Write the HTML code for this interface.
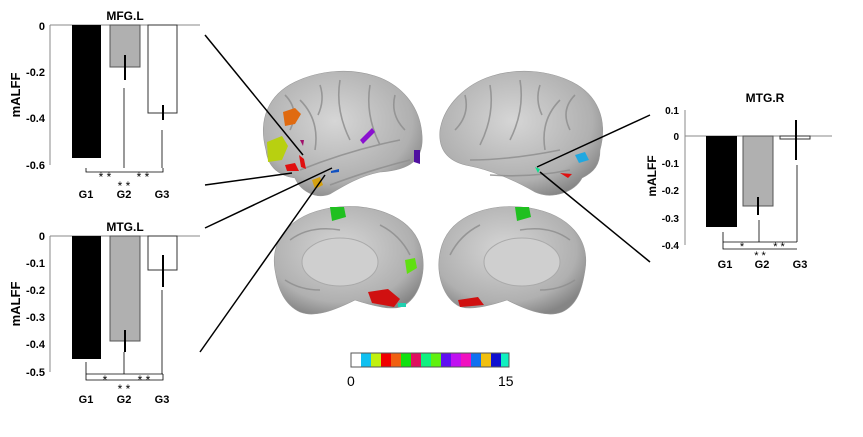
<!DOCTYPE html>
<html><head><meta charset="utf-8"><style>
body{margin:0;background:#fff;}
svg text{font-family:"Liberation Sans",Arial,sans-serif;}
</style></head><body>
<svg width="863" height="432" viewBox="0 0 863 432" xmlns="http://www.w3.org/2000/svg">
<defs>
<radialGradient id="g" cx="45%" cy="40%" r="65%"><stop offset="0" stop-color="#d6d6d6"/><stop offset="0.75" stop-color="#b0b0b0"/><stop offset="1" stop-color="#858585"/></radialGradient>
</defs>
<!-- brains -->
<path d="M266,150 C258,120 268,95 295,82 C320,70 350,68 375,76 C400,84 420,105 422,135 C424,160 410,170 380,172 C360,176 345,185 330,194 C315,200 300,190 295,178 C280,176 268,168 266,150 Z" fill="url(#g)" stroke="#999" stroke-width="0.6"/>
<path d="M600,150 C608,120 598,95 572,82 C548,70 518,68 492,76 C466,84 444,105 440,130 C438,150 448,162 470,166 C490,170 515,180 535,192 C552,200 575,192 582,178 C594,172 600,165 600,150 Z" fill="url(#g)" stroke="#999" stroke-width="0.6"/>
<path d="M275,270 C270,240 290,215 330,208 C370,202 410,215 420,245 C428,270 420,295 405,305 C395,312 370,305 355,300 C335,310 315,318 300,312 C285,305 278,290 275,270 Z" fill="url(#g)" stroke="#999" stroke-width="0.6"/>
<path d="M585,270 C590,240 570,215 530,208 C490,202 452,215 442,245 C434,270 442,295 457,305 C467,312 492,305 507,300 C527,310 547,318 562,312 C577,305 582,290 585,270 Z" fill="url(#g)" stroke="#999" stroke-width="0.6"/>
<ellipse cx="340" cy="262" rx="38" ry="24" fill="#cfcfcf" stroke="#aaa"/>
<ellipse cx="522" cy="262" rx="38" ry="24" fill="#cfcfcf" stroke="#aaa"/>
<g stroke="#8f8f8f" stroke-width="1.6" fill="none" opacity="0.85">
<path d="M300,100 Q320,120 315,150"/><path d="M340,80 Q335,110 350,140"/><path d="M370,85 Q365,115 380,145"/><path d="M300,170 Q350,150 400,140"/>
<path d="M285,95 Q300,110 290,130"/><path d="M395,95 Q390,115 405,130"/><path d="M320,85 Q325,100 318,115"/><path d="M330,185 Q370,170 410,160"/>
<path d="M560,100 Q540,120 545,150"/><path d="M520,80 Q525,110 510,140"/><path d="M490,85 Q495,115 480,145"/><path d="M470,160 Q510,160 560,150"/>
<path d="M575,95 Q560,110 570,130"/><path d="M465,95 Q470,115 455,130"/><path d="M540,85 Q535,100 542,115"/><path d="M490,175 Q530,178 570,170"/>
<path d="M290,240 Q310,225 340,230"/><path d="M380,225 Q400,235 410,255"/><path d="M285,280 Q300,290 320,290"/>
<path d="M570,240 Q550,225 520,230"/><path d="M480,225 Q460,235 450,255"/><path d="M575,280 Q560,290 540,290"/>
</g>
<!-- blobs -->
<path d="M283,112 l12,-4 6,6 -6,10 -10,2z" fill="#e06a10"/>
<path d="M267,142 l15,-6 6,10 -6,14 -14,2z" fill="#b8d010"/>
<path d="M300,140 l4,0 -1,6z" fill="#a0106a"/>
<path d="M299,155 l5,4 2,10 -5,-2z" fill="#e01010"/>
<path d="M285,165 l10,-2 4,8 -12,0z" fill="#e01010"/>
<path d="M312,180 l8,-3 3,8 -8,4z" fill="#d4a010"/>
<path d="M331,171 l8,-2 0,3 -8,1z" fill="#1050c0"/>
<path d="M360,140 l12,-12 3,4 -12,12z" fill="#8a10d0"/>
<path d="M414,150 l6,0 0,14 -6,-2z" fill="#5010a0"/>
<path d="M575,155 l10,-3 4,8 -10,3z" fill="#20a8e0"/>
<path d="M535,167 l5,2 -2,4z" fill="#10e090"/>
<path d="M560,173 l12,1 -4,4z" fill="#e01010"/>
<path d="M330,207 l14,0 2,10 -14,4z" fill="#20c020"/>
<path d="M515,207 l14,0 2,10 -14,4z" fill="#20c020"/>
<path d="M405,260 l10,-2 2,10 -10,6z" fill="#60e010"/>
<path d="M368,292 l20,-3 12,10 -6,8 -22,-4z" fill="#d01010"/>
<path d="M458,300 l20,-3 6,8 -24,2z" fill="#d01010"/>
<path d="M398,303 l8,0 0,4 -8,0z" fill="#20d0b0"/>
<!-- connector lines -->
<g stroke="#000" stroke-width="1.5">
<line x1="205" y1="35" x2="303" y2="155"/>
<line x1="205" y1="185" x2="292" y2="173"/>
<line x1="205" y1="228" x2="332" y2="168"/>
<line x1="200" y1="352" x2="325" y2="175"/>
<line x1="650" y1="115" x2="537" y2="167"/>
<line x1="650" y1="262" x2="540" y2="172"/>
</g>
<!-- colorbar -->
<g stroke="none">
<rect x="351" y="353" width="10" height="14" fill="#fff"/><rect x="361" y="353" width="10" height="14" fill="#10c0f0"/><rect x="371" y="353" width="10" height="14" fill="#c0f010"/><rect x="381" y="353" width="10" height="14" fill="#f00000"/><rect x="391" y="353" width="10" height="14" fill="#f06010"/><rect x="401" y="353" width="10" height="14" fill="#10e010"/><rect x="411" y="353" width="10" height="14" fill="#e01060"/><rect x="421" y="353" width="10" height="14" fill="#10f080"/><rect x="431" y="353" width="10" height="14" fill="#60f010"/><rect x="441" y="353" width="10" height="14" fill="#6010f0"/><rect x="451" y="353" width="10" height="14" fill="#c010f0"/><rect x="461" y="353" width="10" height="14" fill="#f010c0"/><rect x="471" y="353" width="10" height="14" fill="#1070f0"/><rect x="481" y="353" width="10" height="14" fill="#f0c010"/><rect x="491" y="353" width="10" height="14" fill="#1010d0"/><rect x="501" y="353" width="8" height="14" fill="#10f0c0"/>
</g>
<rect x="351" y="353" width="158" height="14" fill="none" stroke="#555"/>
<text x="347" y="386" font-size="14">0</text><text x="498" y="386" font-size="14">15</text>

<!-- chart 1 -->
<g font-size="11" font-weight="bold">
<text x="125" y="20" font-size="12" text-anchor="middle">MFG.L</text>
<line x1="50" y1="25" x2="200" y2="25" stroke="#888"/>
<line x1="50" y1="25" x2="50" y2="165" stroke="#888"/>
<rect x="72" y="25" width="29" height="133" fill="#000"/>
<rect x="110" y="25" width="30" height="42" fill="#b0b0b0" stroke="#555"/>
<rect x="148" y="25" width="29" height="88" fill="#fff" stroke="#333"/>
<line x1="125" y1="55" x2="125" y2="80" stroke="#000" stroke-width="2"/>
<line x1="163" y1="105" x2="163" y2="120" stroke="#000" stroke-width="2"/>
<text x="45" y="30" text-anchor="end">0</text><text x="45" y="76" text-anchor="end">-0.2</text><text x="45" y="122" text-anchor="end">-0.4</text><text x="45" y="169" text-anchor="end">-0.6</text>
<text x="20" y="95" transform="rotate(-90 20 95)" text-anchor="middle" font-size="13">mALFF</text>
<g stroke="#000" fill="none" stroke-width="0.8"><path d="M124,88 V168"/><path d="M162,130 V168"/><path d="M86,168 V172 H163 V168"/></g>
<text x="105" y="181" font-size="12" text-anchor="middle" font-weight="normal">* *</text>
<text x="143" y="181" font-size="12" text-anchor="middle" font-weight="normal">* *</text>
<text x="124" y="190" font-size="12" text-anchor="middle" font-weight="normal">* *</text>
<text x="86" y="198" text-anchor="middle">G1</text><text x="124" y="198" text-anchor="middle">G2</text><text x="162" y="198" text-anchor="middle">G3</text>
</g>
<!-- chart 2 -->
<g font-size="11" font-weight="bold">
<text x="125" y="231" font-size="12" text-anchor="middle">MTG.L</text>
<line x1="50" y1="236" x2="200" y2="236" stroke="#888"/>
<line x1="50" y1="236" x2="50" y2="372" stroke="#888"/>
<rect x="72" y="236" width="29" height="123" fill="#000"/>
<rect x="110" y="236" width="30" height="105" fill="#b0b0b0" stroke="#555"/>
<rect x="148" y="236" width="29" height="34" fill="#fff" stroke="#333"/>
<line x1="125" y1="330" x2="125" y2="352" stroke="#000" stroke-width="2"/>
<line x1="163" y1="255" x2="163" y2="287" stroke="#000" stroke-width="2"/>
<text x="45" y="240" text-anchor="end">0</text><text x="45" y="267" text-anchor="end">-0.1</text><text x="45" y="294" text-anchor="end">-0.2</text><text x="45" y="321" text-anchor="end">-0.3</text><text x="45" y="348" text-anchor="end">-0.4</text><text x="45" y="376" text-anchor="end">-0.5</text>
<text x="20" y="304" transform="rotate(-90 20 304)" text-anchor="middle" font-size="13">mALFF</text>
<g stroke="#000" fill="none" stroke-width="0.8"><path d="M124,352 V374"/><path d="M162,290 V374"/><path d="M86,362 V380 H163 V374"/><path d="M86,374 H163"/></g>
<text x="105" y="384" font-size="12" text-anchor="middle" font-weight="normal">*</text>
<text x="144" y="384" font-size="12" text-anchor="middle" font-weight="normal">* *</text>
<text x="124" y="393" font-size="12" text-anchor="middle" font-weight="normal">* *</text>
<text x="86" y="403" text-anchor="middle">G1</text><text x="124" y="403" text-anchor="middle">G2</text><text x="162" y="403" text-anchor="middle">G3</text>
</g>
<!-- chart 3 -->
<g font-size="10" font-weight="bold">
<text x="765" y="102" font-size="12" text-anchor="middle">MTG.R</text>
<line x1="685" y1="136" x2="832" y2="136" stroke="#888"/>
<line x1="685" y1="110" x2="685" y2="245" stroke="#888"/>
<rect x="706" y="136" width="31" height="91" fill="#000"/>
<rect x="743" y="136" width="30" height="70" fill="#b0b0b0" stroke="#555"/>
<rect x="780" y="136" width="30" height="3" fill="#fff" stroke="#333"/>
<line x1="758" y1="197" x2="758" y2="215" stroke="#000" stroke-width="2"/>
<line x1="796" y1="120" x2="796" y2="160" stroke="#000" stroke-width="2"/>
<text x="679" y="114" text-anchor="end">0.1</text><text x="679" y="140" text-anchor="end">0</text><text x="679" y="167" text-anchor="end">-0.1</text><text x="679" y="194" text-anchor="end">-0.2</text><text x="679" y="222" text-anchor="end">-0.3</text><text x="679" y="249" text-anchor="end">-0.4</text>
<text x="656" y="176" transform="rotate(-90 656 176)" text-anchor="middle" font-size="12">mALFF</text>
<g stroke="#000" fill="none" stroke-width="0.8"><path d="M759,220 V242"/><path d="M797,165 V242"/><path d="M723,232 V249 H797"/><path d="M723,242 H797"/></g>
<text x="742" y="250" font-size="11" text-anchor="middle" font-weight="normal">*</text>
<text x="779" y="250" font-size="11" text-anchor="middle" font-weight="normal">* *</text>
<text x="760" y="259" font-size="11" text-anchor="middle" font-weight="normal">* *</text>
<text x="725" y="268" text-anchor="middle" font-size="11">G1</text><text x="762" y="268" text-anchor="middle" font-size="11">G2</text><text x="800" y="268" text-anchor="middle" font-size="11">G3</text>
</g>
</svg>
</body></html>
